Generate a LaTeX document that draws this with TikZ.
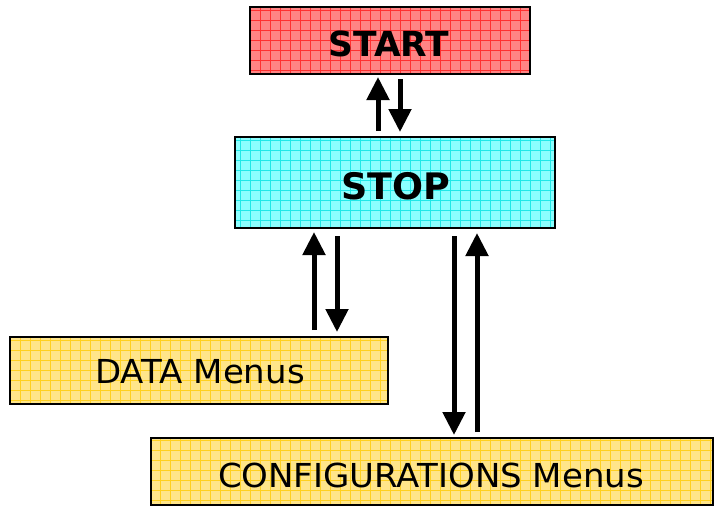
\documentclass[tikz,border=0pt]{standalone}
\usepackage{fontspec}
\setmainfont{DejaVu Sans}
\newfontfamily\boldfam{DejaVu Sans Bold}
\newfontfamily\regwide[FakeStretch=1.03]{DejaVu Sans}
\usetikzlibrary{arrows.meta}
\definecolor{redfill}{HTML}{FF8484}
\definecolor{redgrid}{HTML}{FF3030}
\definecolor{cyanfill}{HTML}{8CFFFF}
\definecolor{cyangrid}{HTML}{20E8E8}
\definecolor{yelfill}{HTML}{FFE58A}
\definecolor{yelgrid}{HTML}{FFD020}
\newcommand{\gridbox}[6]{% x1,y1,x2,y2,fill,grid
  \fill[#5] (#1,#2) rectangle (#3,#4);
  \begin{scope}
    \clip (#1,#2) rectangle (#3,#4);
    \foreach \gx in {0,10,...,720} {\draw[#6,line width=0.9pt] (\gx,0) -- (\gx,510);}
    \foreach \gy in {0,10,...,510} {\draw[#6,line width=0.9pt] (0,\gy) -- (720,\gy);}
  \end{scope}
  \draw[line width=2.4pt] (#1,#2) rectangle (#3,#4);
}
\tikzset{
  flow/.style={line width=5pt, -{Triangle[length=23pt,width=22pt]}},
  lbl/.style={inner sep=0pt, anchor=center}
}
\begin{document}
\begin{tikzpicture}[x=1pt,y=-1pt]
\useasboundingbox (0,0) rectangle (717,506);
\gridbox{250}{7}{530}{74}{redfill}{redgrid}
\gridbox{235}{137}{555}{228}{cyanfill}{cyangrid}
\gridbox{10}{337}{388}{404}{yelfill}{yelgrid}
\gridbox{151}{438}{713}{505}{yelfill}{yelgrid}
\node[lbl,font=\boldfam\fontsize{34.5}{38}\selectfont] (start) at (389,43.5) {START};
\node[lbl,font=\boldfam\fontsize{36.5}{40}\selectfont] (stop) at (396,186) {STOP};
\node[lbl,font=\regwide\fontsize{33}{36}\selectfont] (data) at (200,372) {DATA Menus};
\node[lbl,font=\regwide\fontsize{33}{36}\selectfont] (conf) at (431,475.5) {CONFIGURATIONS Menus};
\coordinate (a1s) at (378,131); \coordinate (a1e) at (378,77);
\coordinate (a2s) at (400,79); \coordinate (a2e) at (400,132);
\coordinate (b1s) at (314,330); \coordinate (b1e) at (314,232);
\coordinate (b2s) at (337,236); \coordinate (b2e) at (337,332);
\coordinate (c1s) at (454,236); \coordinate (c1e) at (454,435);
\coordinate (c2s) at (477,432); \coordinate (c2e) at (477,233);
\draw[flow] (a1s) -- (a1e);
\draw[flow] (a2s) -- (a2e);
\draw[flow] (b1s) -- (b1e);
\draw[flow] (b2s) -- (b2e);
\draw[flow] (c1s) -- (c1e);
\draw[flow] (c2s) -- (c2e);
\end{tikzpicture}
\end{document}
